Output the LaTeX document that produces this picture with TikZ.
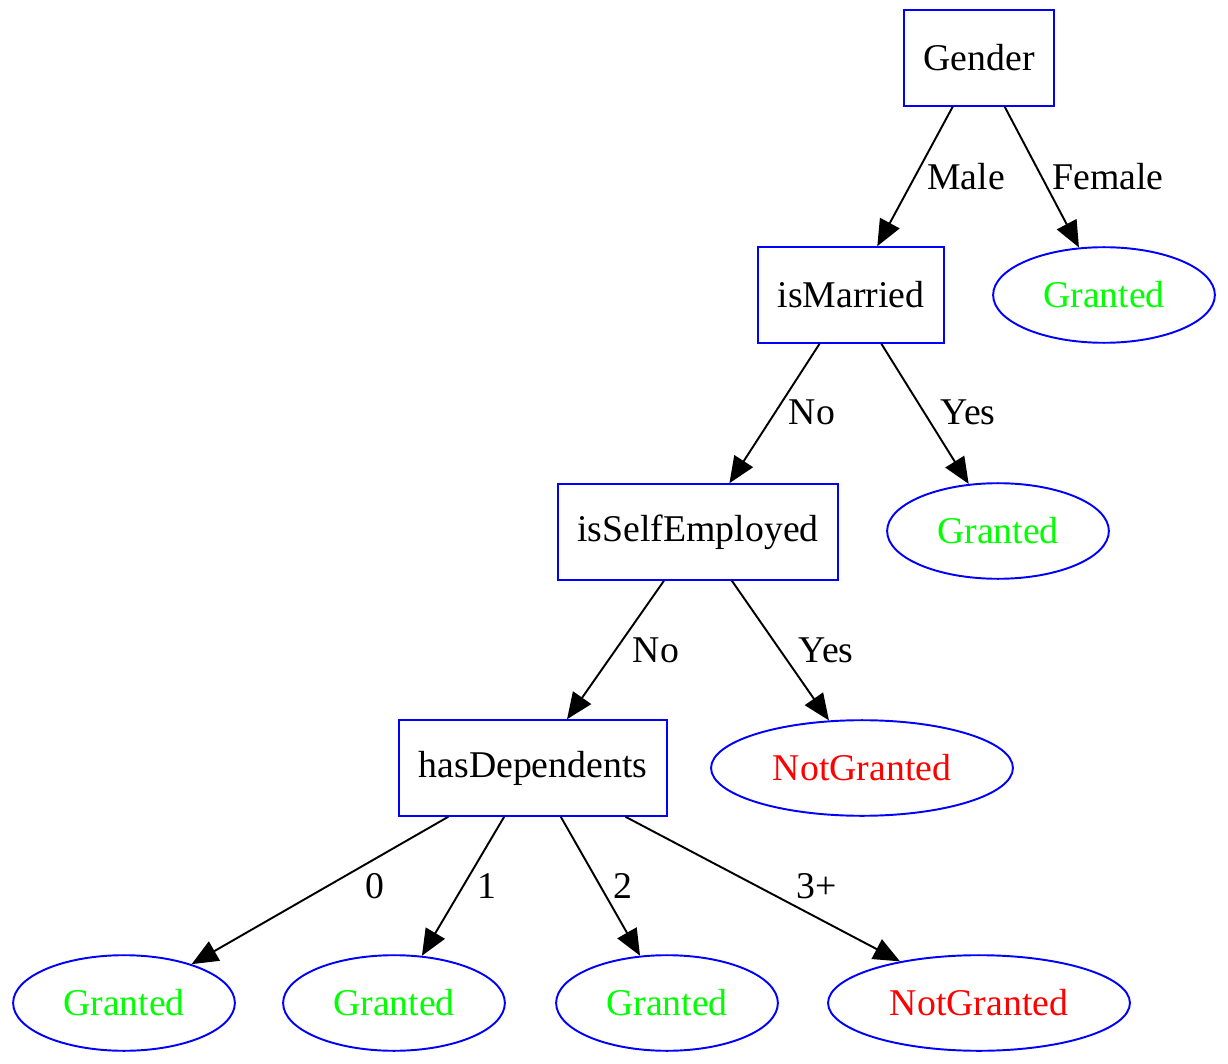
\documentclass[tikz,border=0pt]{standalone}
\usepackage{fontspec}
\setmainfont{Liberation Serif}
\usetikzlibrary{shapes.geometric,arrows.meta}
\definecolor{gvblue}{RGB}{0,0,255}
\definecolor{gvgreen}{RGB}{0,255,0}
\definecolor{gvred}{RGB}{255,0,0}
\begin{document}
\begin{tikzpicture}[x=0.02cm, y=-0.02cm,
  every node/.style={font=\fontsize{21.5}{26}\selectfont},
  decision/.style={rectangle, draw=gvblue, line width=1.1pt, minimum height=54.4pt, inner xsep=11pt},
  leaf/.style={ellipse, draw=gvblue, line width=1.1pt, minimum height=54.4pt, inner xsep=10pt, inner ysep=0pt},
  edge/.style={-{Triangle[length=15pt,width=12.5pt]}, line width=1.1pt}]
\useasboundingbox (0,0) rectangle (1228,1064);
% decisions
\node[decision] (gender) at (979,58) {Gender};
\node[decision] (married) at (851,295) {isMarried};
\node[decision] (self) at (698,532) {isSelfEmployed};
\node[decision] (deps) at (533,768) {hasDependents};
% leaves
\node[leaf, text=gvgreen] (female) at (1104,295) {Granted};
\node[leaf, text=gvgreen] (mgrant) at (998,531) {Granted};
\node[leaf, text=gvred] (sdeny) at (862,768) {NotGranted};
\node[leaf, text=gvgreen] (d0) at (124,1003) {Granted};
\node[leaf, text=gvgreen] (d1) at (394,1003) {Granted};
\node[leaf, text=gvgreen] (d2) at (667,1003) {Granted};
\node[leaf, text=gvred] (d3) at (979,1003) {NotGranted};
% edge labels
\node (lmale) at (966,177) {Male};
\node (lfemale) at (1108,177) {Female};
\node (lmno) at (812,412) {No};
\node (lmyes) at (968,412) {Yes};
\node (lsno) at (656,650) {No};
\node (lsyes) at (826,650) {Yes};
\node (l0) at (375,886) {0};
\node (l1) at (487,886) {1};
\node (l2) at (623,886) {2};
\node (l3) at (817,886) {3+};
% edges
\draw[edge] (gender) -- (married);
\draw[edge] (gender) -- (female);
\draw[edge] (married) -- (self);
\draw[edge] (married) -- (mgrant);
\draw[edge] (self) -- (deps);
\draw[edge] (self) -- (sdeny);
\draw[edge] (deps) -- (d0);
\draw[edge] (deps) -- (d1);
\draw[edge] (deps) -- (d2);
\draw[edge] (deps) -- (d3);
\end{tikzpicture}
\end{document}
